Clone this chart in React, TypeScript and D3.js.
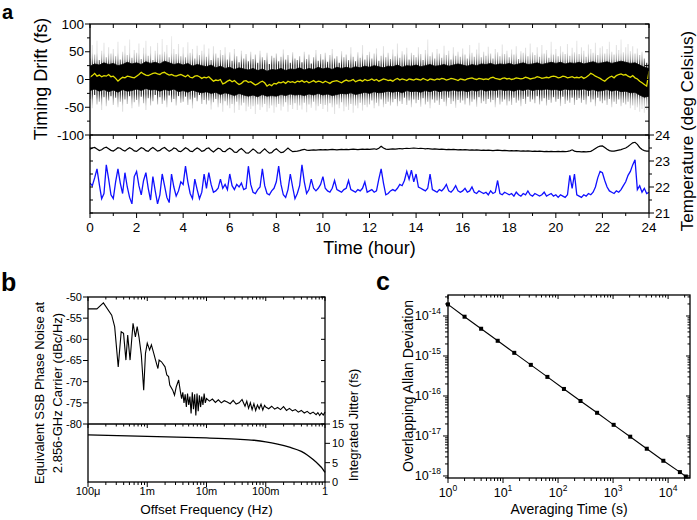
import React from "react";
import * as d3 from "d3";

const FONT = "Arial, 'Liberation Sans', Helvetica, sans-serif";

// ---------------- Panel a data ----------------
const hourTicks = [0, 2, 4, 6, 8, 10, 12, 14, 16, 18, 20, 22, 24];
const driftTicks = [100, 50, 0, -50, -100];
const tempTicks = [24, 23, 22, 21];
const SAMPLE_STEP_H = 0.1;
const CORE_STEP_H = 0.2;

// running mean of timing drift (fs), every 0.1 h
const driftMean = [
  4, 7, 11, 6, 8, 5, 7, 6, 9, 5,
  6, 2, -3, 1, 4, 3, 6, 5, 4, 3,
  6, 9, 13, 10, 8, 7, 9, 11, 12, 10,
  9, 12, 13, 10, 8, 9, 7, 6, 8, 9,
  7, 5, 8, 4, 3, 6, 7, 5, 2, 4,
  3, 5, 1, -3, -1, -2, 0, -8, -6, -3,
  -1, -4, -2, -6, -9, -7, -3, -2, -5, -4,
  -7, -10, -8, -5, -3, -6, -12, -9, -11, -7,
  -8, -5, -6, -4, -7, -3, -5, -4, -6, -3,
  -4, -2, -5, -3, -6, -4, -2, -5, -3, -4,
  -6, -3, -5, -7, -4, -3, -2, -4, -6, -3,
  -1, -3, -2, 0, -4, -2, -1, -3, 0, -2,
  -1, 1, -2, 0, -3, -1, 1, 0, -2, -1,
  -3, 0, 2, -1, 1, 0, -2, 1, 0, -1,
  1, 0, -1, 2, 0, -2, 1, 0, -1, 1,
  0, 2, 1, -1, 0, 2, 1, 0, -2, 1,
  0, -1, 1, 2, 3, 1, 0, 2, 1, 0,
  1, 0, 3, 4, 2, 1, 0, 2, 3, 1,
  2, 0, 1, 3, 2, 1, 2, 4, 3, 1,
  2, 3, 5, 4, 2, 3, 4, 3, 5, 6,
  5, 3, 4, 6, 5, 3, 4, 5, 3, 4,
  3, 5, 2, 4, 7, 11, 9, 6, 4, 2,
  -1, -3, 1, 4, 6, 3, 7, 9, 10, 8,
  9, 6, 4, 7, 3, 1, -3, -6, -9, -12,
  15,
];

// dense black band (fs), every 0.2 h
const driftCoreHi = [
  24, 28, 26, 30, 27, 29, 25, 27, 31, 28, 30, 27, 32, 29, 31, 28, 33, 30, 27, 29,
  26, 29, 24, 27, 25, 23, 26, 21, 24, 20, 22, 18, 21, 19, 17, 20, 16, 19, 15, 18,
  17, 20, 16, 19, 18, 21, 17, 20, 18, 22, 19, 21, 18, 22, 20, 22, 20, 23, 21, 24,
  22, 25, 23, 21, 24, 23, 26, 22, 25, 24, 26, 23, 25, 27, 24, 25, 27, 24, 26, 28,
  26, 24, 27, 25, 28, 27, 29, 26, 28, 27, 29, 26, 28, 30, 27, 28, 30, 27, 29, 31,
  29, 31, 28, 30, 29, 31, 28, 30, 32, 29, 30, 32, 29, 31, 33, 31, 29, 30, 26, 22,
  20,
];
const driftCoreLo = [
  -20, -17, -21, -18, -22, -19, -23, -18, -21, -20, -17, -20, -16, -19, -18, -21, -18, -20, -17, -22,
  -20, -23, -19, -22, -24, -22, -25, -23, -27, -24, -26, -29, -25, -28, -30, -28, -31, -27, -30, -29,
  -30, -27, -29, -26, -28, -27, -29, -26, -28, -25, -28, -26, -29, -27, -25, -26, -24, -27, -25, -23,
  -25, -22, -24, -23, -21, -23, -21, -24, -20, -22, -21, -23, -20, -22, -19, -22, -20, -21, -19, -21,
  -20, -22, -19, -21, -18, -21, -19, -20, -18, -20, -19, -21, -18, -20, -17, -20, -18, -19, -17, -19,
  -18, -20, -17, -19, -18, -19, -17, -20, -18, -21, -20, -18, -21, -19, -22, -21, -24, -23, -28, -32,
  -30,
];

// extreme excursions of the raw drift samples (fs), every 0.1 h
const driftSpikeHi = [
  38, 62, 45, 70, 35, 52, 66, 40, 58, 47,
  55, 42, 68, 36, 50, 61, 44, 72, 39, 53,
  48, 65, 37, 57, 70, 43, 60, 35, 52, 66,
  45, 73, 50, 62, 40, 78, 55, 46, 64, 42,
  58, 40, 67, 48, 55, 38, 61, 44, 52, 63,
  41, 56, 35, 60, 47, 39, 53, 44, 58, 36,
  49, 34, 55, 42, 31, 52, 38, 46, 33, 50,
  37, 45, 30, 52, 40, 35, 48, 28, 43, 39,
  47, 33, 41, 54, 36, 44, 30, 49, 38, 35,
  42, 31, 50, 37, 45, 29, 40, 53, 34, 46,
  36, 48, 32, 44, 55, 38, 42, 30, 51, 40,
  45, 35, 58, 41, 33, 49, 39, 62, 36, 44,
  50, 38, 47, 56, 34, 43, 60, 40, 48, 37,
  54, 42, 65, 39, 51, 45, 57, 36, 48, 44,
  40, 58, 46, 35, 53, 72, 42, 49, 38, 55,
  47, 39, 61, 44, 52, 36, 58, 43, 50, 41,
  56, 45, 38, 62, 48, 41, 54, 66, 40, 50,
  43, 59, 47, 38, 55, 49, 42, 63, 46, 52,
  40, 54, 45, 60, 37, 51, 48, 57, 42, 65,
  49, 44, 58, 41, 62, 47, 53, 39, 68, 45,
  55, 42, 60, 50, 46, 64, 43, 57, 49, 70,
  46, 58, 52, 41, 63, 55, 48, 66, 44, 57,
  60, 47, 55, 68, 50, 45, 62, 53, 72, 49,
  58, 64, 51, 60, 47, 56, 44, 50, 38, 30,
  28,
];
const driftSpikeLo = [
  -35, -52, -28, -45, -40, -55, -32, -48, -38, -30,
  -46, -33, -50, -40, -58, -36, -44, -30, -52, -41,
  -37, -49, -31, -43, -55, -34, -47, -39, -28, -45,
  -32, -44, -38, -50, -29, -41, -35, -47, -30, -42,
  -40, -31, -46, -36, -52, -33, -39, -28, -44, -37,
  -45, -38, -54, -41, -35, -50, -43, -58, -39, -47,
  -52, -44, -60, -40, -55, -47, -42, -57, -49, -53,
  -48, -62, -45, -55, -50, -44, -58, -52, -47, -60,
  -50, -44, -56, -49, -41, -58, -46, -53, -43, -55,
  -47, -54, -42, -59, -45, -51, -40, -56, -48, -44,
  -53, -46, -58, -43, -50, -62, -45, -52, -41, -57,
  -49, -55, -44, -60, -47, -52, -42, -56, -46, -50,
  -45, -38, -52, -42, -48, -36, -50, -44, -40, -47,
  -41, -35, -48, -39, -44, -33, -46, -38, -50, -36,
  -43, -37, -49, -34, -45, -40, -52, -36, -42, -38,
  -46, -35, -40, -48, -33, -44, -39, -51, -37, -42,
  -38, -45, -34, -47, -40, -36, -49, -32, -43, -39,
  -44, -35, -41, -37, -50, -33, -45, -40, -36, -47,
  -39, -46, -33, -42, -38, -48, -35, -44, -31, -40,
  -36, -43, -30, -45, -39, -34, -47, -37, -42, -32,
  -40, -35, -48, -31, -44, -38, -42, -33, -46, -37,
  -34, -42, -37, -45, -30, -41, -36, -48, -33, -39,
  -43, -38, -46, -35, -50, -40, -44, -36, -48, -42,
  -45, -40, -52, -47, -55, -50, -58, -53, -60, -55,
  -45,
];

// temperatures (deg C), every 0.1 h
const roomTemp = [
  23.45, 23.50, 23.52, 23.46, 23.40, 23.43, 23.50, 23.53, 23.47, 23.41,
  23.38, 23.44, 23.51, 23.49, 23.42, 23.38, 23.45, 23.51, 23.46, 23.39,
  23.37, 23.44, 23.51, 23.48, 23.40, 23.37, 23.46, 23.52, 23.45, 23.38,
  23.41, 23.48, 23.52, 23.44, 23.37, 23.42, 23.50, 23.47, 23.38, 23.36,
  23.43, 23.51, 23.46, 23.38, 23.36, 23.44, 23.50, 23.45, 23.37, 23.40,
  23.48, 23.50, 23.41, 23.35, 23.42, 23.49, 23.46, 23.37, 23.36, 23.44,
  23.49, 23.43, 23.34, 23.33, 23.42, 23.48, 23.40, 23.31, 23.30, 23.38,
  23.46, 23.40, 23.31, 23.30, 23.39, 23.47, 23.38, 23.30, 23.32, 23.41,
  23.47, 23.39, 23.32, 23.34, 23.42, 23.50, 23.42, 23.36, 23.37, 23.38,
  23.40, 23.43, 23.45, 23.42, 23.41, 23.42, 23.43, 23.42, 23.43, 23.44,
  23.43, 23.44, 23.43, 23.44, 23.45, 23.44, 23.43, 23.44, 23.45, 23.44,
  23.45, 23.44, 23.45, 23.46, 23.45, 23.44, 23.45, 23.46, 23.45, 23.46,
  23.45, 23.46, 23.47, 23.45, 23.49, 23.57, 23.50, 23.46, 23.45, 23.46,
  23.47, 23.46, 23.47, 23.48, 23.47, 23.48, 23.49, 23.48, 23.49, 23.50,
  23.49, 23.48, 23.49, 23.48, 23.47, 23.48, 23.47, 23.46, 23.47, 23.46,
  23.45, 23.46, 23.45, 23.44, 23.45, 23.44, 23.45, 23.44, 23.43, 23.44,
  23.43, 23.44, 23.43, 23.42, 23.43, 23.42, 23.43, 23.42, 23.41, 23.42,
  23.41, 23.42, 23.41, 23.40, 23.41, 23.42, 23.41, 23.40, 23.41, 23.40,
  23.39, 23.40, 23.39, 23.40, 23.39, 23.38, 23.39, 23.38, 23.39, 23.38,
  23.37, 23.38, 23.37, 23.38, 23.37, 23.36, 23.37, 23.36, 23.37, 23.36,
  23.36, 23.37, 23.36, 23.37, 23.36, 23.37, 23.39, 23.43, 23.38, 23.36,
  23.36, 23.35, 23.36, 23.35, 23.36, 23.37, 23.42, 23.48, 23.54, 23.57,
  23.58, 23.52, 23.45, 23.40, 23.38, 23.38, 23.40, 23.42, 23.44, 23.47,
  23.50, 23.56, 23.63, 23.70, 23.72, 23.64, 23.52, 23.44, 23.40, 23.38,
  23.38,
];
const labTemp = [
  22.15, 22.05, 22.35, 22.70, 22.10, 21.55, 21.75, 22.85, 22.30, 21.70,
  21.55, 22.20, 22.70, 22.15, 21.75, 22.55, 22.00, 21.60, 21.35, 22.40,
  22.60, 22.05, 21.70, 22.25, 22.55, 21.95, 21.50, 22.40, 21.85, 21.35,
  21.70, 22.50, 22.05, 21.60, 21.40, 22.50, 22.00, 21.65, 21.85, 22.20,
  22.10, 22.80, 22.20, 21.75, 21.55, 22.30, 21.90, 21.55, 21.80, 22.50,
  21.95, 22.55, 22.10, 21.80, 21.85, 21.95, 22.30, 21.95, 22.10, 21.90,
  22.50, 22.05, 21.90, 22.10, 22.00, 22.15, 21.90, 21.95, 22.80, 22.10,
  21.80, 21.75, 21.90, 22.00, 22.70, 22.05, 21.75, 21.70, 21.85, 21.95,
  22.20, 22.80, 22.10, 21.70, 21.60, 21.90, 22.50, 22.00, 21.55, 21.75,
  22.05, 22.85, 22.20, 21.75, 21.90, 22.30, 21.95, 21.85, 21.95, 22.10,
  22.40, 21.95, 21.85, 21.80, 21.95, 22.25, 21.90, 21.85, 21.80, 21.90,
  21.95, 22.25, 21.90, 21.85, 21.80, 21.90, 21.85, 21.95, 22.20, 21.80,
  21.85, 21.90, 21.80, 21.85, 22.30, 22.70, 22.15, 21.70, 21.75, 21.85,
  21.90, 21.85, 21.95, 22.10, 22.05, 22.25, 22.60, 22.30, 22.65, 22.20,
  22.50, 22.00, 21.95, 21.90, 21.85, 21.95, 22.50, 21.90, 21.85, 21.80,
  21.90, 21.85, 21.95, 22.10, 21.85, 21.80, 21.90, 22.05, 21.85, 21.80,
  21.85, 21.95, 21.80, 21.85, 22.00, 21.80, 21.75, 21.85, 21.80, 21.75,
  21.80, 21.70, 21.85, 21.75, 21.80, 22.25, 21.75, 21.70, 21.80, 21.75,
  21.70, 21.75, 21.65, 21.80, 21.70, 21.65, 21.75, 21.70, 21.85, 21.70,
  21.65, 21.75, 21.70, 21.65, 21.70, 21.80, 21.65, 21.70, 21.75, 21.65,
  21.70, 21.60, 21.70, 21.65, 21.60, 21.70, 22.45, 21.95, 22.50, 21.70,
  21.65, 21.60, 21.70, 21.65, 21.75, 21.70, 21.80, 22.00, 22.35, 22.60,
  22.55, 22.25, 22.00, 21.85, 21.80, 21.75, 21.85, 21.80, 21.90, 22.05,
  22.20, 22.45, 22.60, 22.85, 23.05, 21.90, 22.05, 21.80, 21.95, 21.75,
  21.80,
];

// ---------------- Panel b data ----------------
const freqTickLabels = ["100\u03bc", "1m", "10m", "100m", "1"];
const pnTicks = [-50, -55, -60, -65, -70, -75, -80];
const jitterTicks = [15, 10, 5, 0];
const pnLogFreq = [
  -4.0, -3.85, -3.74, -3.6, -3.55, -3.49, -3.44, -3.4, -3.36, -3.33,
  -3.29, -3.24, -3.2, -3.17, -3.14, -3.1, -3.06, -3.03, -3.0, -2.96,
  -2.93, -2.89, -2.86, -2.82, -2.8, -2.76, -2.7, -2.67, -2.64, -2.62,
  -2.57, -2.54, -2.51, -2.47, -2.44,
  -2.42, -2.4, -2.38, -2.36, -2.34, -2.32, -2.3, -2.28, -2.26, -2.24,
  -2.22, -2.2, -2.18, -2.16, -2.14, -2.12, -2.1, -2.08, -2.06, -2.04,
  -2.02, -2.0,
  -1.95, -1.9, -1.85, -1.8, -1.75, -1.7, -1.65, -1.6, -1.55, -1.5, -1.45, -1.4, -1.35,
  -1.32, -1.29, -1.26, -1.23, -1.2, -1.17, -1.14, -1.11, -1.08, -1.05, -1.02,
  -1.0,
  -0.95, -0.9, -0.85, -0.8, -0.75, -0.7, -0.65, -0.6, -0.55, -0.5, -0.45, -0.4, -0.35,
  -0.3, -0.25, -0.2, -0.15,
  -0.12, -0.09, -0.06, -0.03, 0.0,
];
const pnLevel = [
  -52.8, -52.8, -51.4, -54.3, -57.0, -66.5, -58.2, -58.6, -64.9, -59.0,
  -64.9, -56.2, -59.4, -57.0, -59.4, -63.7, -72.0, -63.3, -60.9, -62.5,
  -61.3, -63.3, -64.9, -66.9, -64.9, -65.3, -66.5, -68.4, -68.8, -70.8,
  -72.0, -73.2, -71.2, -69.6, -72.4,
  -74.0, -72.5, -75.0, -73.0, -76.0, -72.8, -75.5, -73.5, -77.5, -72.5,
  -76.5, -73.0, -78.0, -72.8, -77.0, -73.2, -76.0, -73.5, -75.5, -72.8,
  -75.0, -74.0,
  -74.6, -74.1, -74.9, -74.3, -75.0, -74.5, -74.8, -75.2, -74.4, -75.3, -75.0, -74.2, -75.8,
  -74.6, -76.3, -75.0, -76.6, -75.2, -76.8, -75.5, -76.4, -75.3, -76.7, -75.6,
  -76.0,
  -76.4, -75.8, -76.5, -76.1, -76.6, -75.9, -76.8, -76.3, -76.9, -76.6, -77.2, -76.8, -77.4,
  -77.0, -77.6, -77.2, -77.8,
  -77.3, -78.0, -77.4, -77.9, -77.2,
];
const jitLogFreq = [-4, -3.5, -3, -2.5, -2, -1.5, -1.2, -1.0, -0.8, -0.6, -0.4, -0.3, -0.2, -0.1, -0.05, 0];
const jitValue = [12.2, 12.0, 11.8, 11.6, 11.4, 11.1, 10.8, 10.4, 9.8, 9.0, 7.9, 7.0, 5.8, 4.4, 3.6, 2.5];

// ---------------- Panel c data ----------------
const allanTau = [1, 2, 4, 8, 16, 32, 64, 128, 256, 512, 1024, 2048, 4096, 8192, 16384, 21000];
const allanDev = [
  1.95e-14, 9.6e-15, 4.8e-15, 2.4e-15, 1.2e-15, 6.0e-16, 3.0e-16, 1.5e-16,
  7.5e-17, 3.8e-17, 1.9e-17, 9.6e-18, 4.8e-18, 2.4e-18, 1.25e-18, 9.7e-19,
];
const tauExpLabels = [0, 1, 2, 3, 4];
const devExpLabels = [-14, -15, -16, -17, -18];

const isDecade = (v: number) => Math.abs(Math.log10(v) - Math.round(Math.log10(v))) < 1e-6;

export default function App() {
  // ----- panel a scales -----
  const xA = d3.scaleLinear().domain([0, 24]).range([90, 649]);
  const yD = d3.scaleLinear().domain([-100, 100]).range([135, 24]);
  const yT = d3.scaleLinear().domain([21, 24]).range([213, 135]);

  const meanPath = d3.line<number>().x((_, i) => xA(i * SAMPLE_STEP_H)).y((d) => yD(d))(driftMean) || "";
  const corePath =
    d3
      .area<number>()
      .x((_, i) => xA(i * CORE_STEP_H))
      .y0((_, i) => yD(driftCoreLo[i]))
      .y1((d) => yD(d))(driftCoreHi) || "";
  const tLine = d3.line<number>().x((_, i) => xA(i * SAMPLE_STEP_H)).y((d) => yT(d));
  const roomPath = tLine(roomTemp) || "";
  const labPath = tLine(labTemp) || "";

  const hourAll = d3.range(0, 24.001, 1);
  const driftMinor = d3.range(-100, 100.001, 25);
  const tempMinor = d3.range(21, 24.001, 0.5);

  // ----- panel b scales -----
  const xB = d3.scaleLog().domain([1e-4, 1]).range([88, 325]);
  const yPN = d3.scaleLinear().domain([-80, -50]).range([424, 297]);
  const yJ = d3.scaleLinear().domain([0, 15]).range([482, 424]);
  const pnPath =
    d3
      .line<number>()
      .x((d) => xB(Math.pow(10, d)))
      .y((_, i) => yPN(pnLevel[i]))(pnLogFreq) || "";
  const jitPath =
    d3
      .line<number>()
      .curve(d3.curveMonotoneX)
      .x((d) => xB(Math.pow(10, d)))
      .y((_, i) => yJ(jitValue[i]))(jitLogFreq) || "";
  const fTicks = xB.ticks();
  const fMajor = fTicks.filter(isDecade);

  // ----- panel c scales -----
  const xC = d3.scaleLog().domain([1, 25000]).range([448, 690]);
  const yC = d3.scaleLog().domain([8.9e-19, 3.35e-14]).range([478, 295]);
  const allanPath =
    d3
      .line<number>()
      .x((d) => xC(d))
      .y((_, i) => yC(allanDev[i]))(allanTau) || "";
  const tauTicks = xC.ticks();
  const devTicks = yC.ticks();

  const ax = { stroke: "#000", strokeWidth: 1.3, fill: "none" } as const;
  const tk = { stroke: "#000", strokeWidth: 1 } as const;

  const [aL, aR] = xA.range();
  const [bL, bR] = xB.range();
  const [cL, cR] = xC.range();

  return (
    <svg
      width={697}
      height={520}
      viewBox="0 0 697 520"
      style={{ position: "absolute", left: 0, top: 0, background: "#fff" }}
      fontFamily={FONT}
    >
      <defs>
        <linearGradient id="spikeGrad" gradientUnits="userSpaceOnUse" x1={0} x2={0} y1={yD(80)} y2={yD(-80)}>
          <stop offset="0" stopColor="#f0f0f0" />
          <stop offset="0.2" stopColor="#dcdcdc" />
          <stop offset="0.27" stopColor="#a0a0a0" />
          <stop offset="0.34" stopColor="#1a1a1a" />
          <stop offset="0.66" stopColor="#1a1a1a" />
          <stop offset="0.73" stopColor="#a0a0a0" />
          <stop offset="0.8" stopColor="#dcdcdc" />
          <stop offset="1" stopColor="#f0f0f0" />
        </linearGradient>
        <clipPath id="clipA">
          <rect x={aL} y={yD(100)} width={aR - aL} height={yT(21) - yD(100)} />
        </clipPath>
      </defs>
      <rect x={0} y={0} width={697} height={520} fill="#fff" />

      {/* ================= Panel a ================= */}
      <text x={2} y={19} fontSize={20} fontWeight="bold">a</text>
      <g clipPath="url(#clipA)">
        {driftSpikeHi.map((hi, i) => (
          <line
            key={"sp" + i}
            x1={xA(i * SAMPLE_STEP_H)}
            x2={xA(i * SAMPLE_STEP_H)}
            y1={yD(hi)}
            y2={yD(driftSpikeLo[i])}
            stroke="url(#spikeGrad)"
            strokeWidth={1.1}
          />
        ))}
        <path d={corePath} fill="#000" stroke="#000" strokeWidth={0.8} />
        <path d={meanPath} fill="none" stroke="#e0dc00" strokeWidth={1.3} />
        <path d={roomPath} fill="none" stroke="#000" strokeWidth={1.2} />
        <path d={labPath} fill="none" stroke="#1010ff" strokeWidth={1.3} />
      </g>
      {/* frame */}
      <rect x={aL} y={yD(100)} width={aR - aL} height={yT(21) - yD(100)} {...ax} />
      <line x1={aL} x2={aR} y1={yD(-100)} y2={yD(-100)} {...ax} />
      {/* x ticks */}
      {hourAll.map((h) => (
        <g key={"ha" + h}>
          <line x1={xA(h)} x2={xA(h)} y1={yD(100)} y2={yD(100) + 4} {...tk} />
          <line x1={xA(h)} x2={xA(h)} y1={yD(-100)} y2={yD(-100) + 4} {...tk} />
          <line x1={xA(h)} x2={xA(h)} y1={yT(21)} y2={yT(21) + (h % 2 === 0 ? 5 : 3)} {...tk} />
        </g>
      ))}
      {hourTicks.map((h) => (
        <text key={"hl" + h} x={xA(h)} y={232} fontSize={13.5} textAnchor="middle">
          {h}
        </text>
      ))}
      {/* drift y ticks */}
      {driftMinor.map((v) => (
        <g key={"dm" + v}>
          <line x1={aL} x2={aL - (v % 50 === 0 ? 5 : 3)} y1={yD(v)} y2={yD(v)} {...tk} />
          <line x1={aR} x2={aR - 4} y1={yD(v)} y2={yD(v)} {...tk} />
        </g>
      ))}
      {driftTicks.map((v) => (
        <text key={"dl" + v} x={aL - 6} y={yD(v)} dy="0.35em" fontSize={13.5} textAnchor="end">
          {v}
        </text>
      ))}
      {/* temperature ticks */}
      {tempMinor.map((v) => (
        <g key={"tm" + v}>
          <line x1={aL} x2={aL + 3} y1={yT(v)} y2={yT(v)} {...tk} />
          <line x1={aR} x2={aR + (Number.isInteger(v) ? 5 : 3)} y1={yT(v)} y2={yT(v)} {...tk} />
        </g>
      ))}
      {tempTicks.map((v) => (
        <text key={"tl" + v} x={aR + 6} y={yT(v)} dy="0.35em" fontSize={13.5} textAnchor="start">
          {v}
        </text>
      ))}
      <text x={(aL + aR) / 2} y={254} fontSize={18} textAnchor="middle">
        Time (hour)
      </text>
      <text transform="translate(47,79) rotate(-90)" fontSize={18} textAnchor="middle">
        Timing Drift (fs)
      </text>
      <text transform="translate(693,131) rotate(-90)" fontSize={17} textAnchor="middle">
        Temperature (deg Celsius)
      </text>

      {/* ================= Panel b ================= */}
      <text x={1} y={291} fontSize={25} fontWeight="bold">b</text>
      <path d={pnPath} fill="none" stroke="#000" strokeWidth={1.1} />
      <path d={jitPath} fill="none" stroke="#000" strokeWidth={1.3} />
      <rect x={bL} y={yPN(-50)} width={bR - bL} height={yJ(0) - yPN(-50)} {...ax} />
      <line x1={bL} x2={bR} y1={yPN(-80)} y2={yPN(-80)} {...ax} />
      {fTicks.map((f, i) => {
        const major = isDecade(f);
        return (
          <g key={"ft" + i}>
            <line x1={xB(f)} x2={xB(f)} y1={yJ(0)} y2={yJ(0) + (major ? 5 : 3)} {...tk} />
            <line x1={xB(f)} x2={xB(f)} y1={yPN(-50)} y2={yPN(-50) + (major ? 4 : 2.5)} {...tk} />
            <line x1={xB(f)} x2={xB(f)} y1={yPN(-80)} y2={yPN(-80) + (major ? 4 : 2.5)} {...tk} />
          </g>
        );
      })}
      {fMajor.map((f, i) => (
        <text key={"fl" + i} x={xB(f)} y={495} fontSize={11} textAnchor="middle">
          {freqTickLabels[i]}
        </text>
      ))}
      {pnTicks.map((v) => (
        <g key={"pn" + v}>
          <line x1={bL} x2={bL - 5} y1={yPN(v)} y2={yPN(v)} {...tk} />
          <line x1={bR} x2={bR - 4} y1={yPN(v)} y2={yPN(v)} {...tk} />
          <text x={bL - 6} y={yPN(v)} dy="0.35em" fontSize={11} textAnchor="end">
            {v}
          </text>
        </g>
      ))}
      {jitterTicks.map((v) => (
        <g key={"jt" + v}>
          <line x1={bR} x2={bR + 5} y1={yJ(v)} y2={yJ(v)} {...tk} />
          <text x={bR + 7} y={yJ(v)} dy="0.35em" fontSize={11} textAnchor="start">
            {v}
          </text>
        </g>
      ))}
      <text x={(bL + bR) / 2} y={514} fontSize={13.5} textAnchor="middle">
        Offset Frequency (Hz)
      </text>
      <text transform="translate(44,393) rotate(-90)" fontSize={13} textAnchor="middle">
        Equivalent SSB Phase Noise at
      </text>
      <text transform="translate(62,393) rotate(-90)" fontSize={13} textAnchor="middle">
        2.856-GHz Carrier (dBc/Hz)
      </text>
      <text transform="translate(358,425) rotate(-90)" fontSize={13} textAnchor="middle">
        Integrated Jitter (fs)
      </text>

      {/* ================= Panel c ================= */}
      <text x={376} y={290} fontSize={25} fontWeight="bold">c</text>
      <path d={allanPath} fill="none" stroke="#000" strokeWidth={1.1} />
      {allanTau.map((t, i) => (
        <rect key={"am" + i} x={xC(t) - 2} y={yC(allanDev[i]) - 2} width={4} height={4} fill="#000" />
      ))}
      <rect x={cL} y={yC.range()[1]} width={cR - cL} height={yC.range()[0] - yC.range()[1]} {...ax} />
      {tauTicks.map((t, i) => {
        const major = isDecade(t);
        return (
          <g key={"tc" + i}>
            <line x1={xC(t)} x2={xC(t)} y1={yC.range()[0]} y2={yC.range()[0] + (major ? 5 : 3)} {...tk} />
            <line x1={xC(t)} x2={xC(t)} y1={yC.range()[1]} y2={yC.range()[1] + (major ? 4 : 2.5)} {...tk} />
          </g>
        );
      })}
      {devTicks.map((d, i) => {
        const major = isDecade(d);
        return (
          <g key={"dc" + i}>
            <line x1={cL} x2={cL - (major ? 5 : 3)} y1={yC(d)} y2={yC(d)} {...tk} />
            <line x1={cR} x2={cR - (major ? 4 : 2.5)} y1={yC(d)} y2={yC(d)} {...tk} />
          </g>
        );
      })}
      {tauExpLabels.map((e) => (
        <text key={"xe" + e} x={xC(Math.pow(10, e))} y={497} fontSize={12.5} textAnchor="middle">
          10<tspan dy={-6} fontSize={8.5}>{e}</tspan>
        </text>
      ))}
      {devExpLabels.map((e) => (
        <text key={"ye" + e} x={cL - 7} y={yC(Math.pow(10, e)) + 4} fontSize={12.5} textAnchor="end">
          10<tspan dy={-6} fontSize={8.5}>{e}</tspan>
        </text>
      ))}
      <text x={569} y={514} fontSize={14} textAnchor="middle">
        Averaging Time (s)
      </text>
      <text transform="translate(413,386) rotate(-90)" fontSize={14} textAnchor="middle">
        Overlapping Allan Deviation
      </text>
    </svg>
  );
}
